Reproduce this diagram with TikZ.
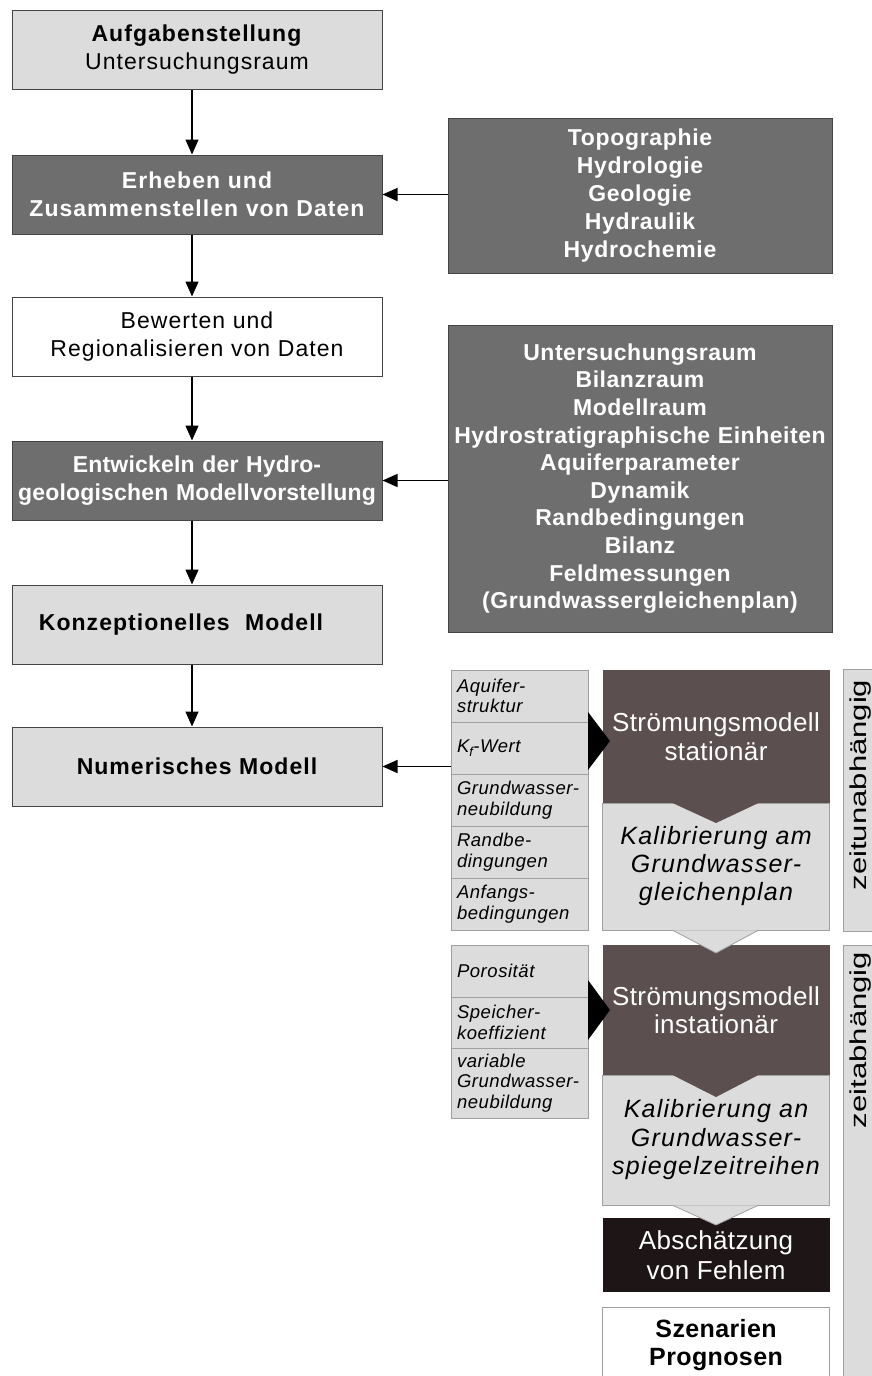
\documentclass[tikz,border=0pt]{standalone}
\usepackage{fontspec}
\usepackage{graphicx}
\setmainfont{Liberation Sans}
\usetikzlibrary{arrows.meta}
\definecolor{lightbox}{HTML}{DCDCDC}
\definecolor{darkbox}{HTML}{6E6E6E}
\definecolor{brownbox}{HTML}{5C4F4F}
\definecolor{blackbox}{HTML}{1E1616}
\definecolor{edgegray}{HTML}{A0A0A0}
\definecolor{edgedark}{HTML}{444444}
\newcommand{\lsp}[1]{\addfontfeature{LetterSpace=#1}}
\begin{document}
\begin{tikzpicture}[x=1pt,y=-1pt,
  leftbox/.style={draw=edgedark, line width=1pt, minimum width=370pt, text width=370pt, minimum height=79pt, inner sep=0pt, align=center, font=\fontsize{23}{28}\selectfont\lsp{4.5}},
  lightleft/.style={leftbox, fill=lightbox},
  darkleft/.style={leftbox, fill=darkbox, text=white, font=\fontsize{23}{28}\selectfont\bfseries\lsp{4.5}},
  boldleft/.style={lightleft, font=\fontsize{23}{28}\selectfont\bfseries\lsp{4.5}},
  rightbox/.style={draw=edgedark, line width=1pt, fill=darkbox, text=white, minimum width=384pt, text width=384pt, inner sep=0pt, align=center},
  smallbox/.style={draw=edgegray, line width=0.8pt, fill=lightbox, minimum width=137pt, inner sep=0pt, text width=125pt, align=left, font=\fontsize{18.5}{20.5}\selectfont\itshape\lsp{3}},
  flowbox/.style={minimum width=227pt, inner sep=0pt, align=center},
  sidebox/.style={draw=edgegray, line width=0.8pt, fill=lightbox, minimum width=32pt, inner sep=0pt},
  arr/.style={line width=1.3pt, -{Triangle[length=15pt,width=13pt]}},
  rottext/.style={rotate=90, inner sep=0pt, font=\fontsize{23}{28}\selectfont}
]
\useasboundingbox[fill=white] (0,0) rectangle (871,1376);

% ---- left column ----
\node[lightleft] (a1) at (197,49.5) {\textbf{Aufgabenstellung}\\Untersuchungsraum};
\node[darkleft] (a2) at (197,194.5) {Erheben und\\Zusammenstellen von Daten};
\node[lightleft, fill=white] (a3) at (197,336.5) {Bewerten und\\Regionalisieren von Daten};
\node[darkleft, font=\fontsize{23}{28}\selectfont\bfseries\lsp{0.8}] (a4) at (197,480.5) {Entwickeln der Hydro-\\geologischen Modellvorstellung};
\node[boldleft] (a5) at (197,624.5) {Konzeptionelles\ \ Modell\hspace{32pt}\mbox{}};
\node[boldleft] (a6) at (197,766.5) {Numerisches Modell};

\foreach \u/\v in {a1/a2,a2/a3,a3/a4,a4/a5,a5/a6}
  \draw[arr] ([xshift=-5pt]\u.south) -- ([xshift=-5pt]\v.north);

% ---- right info boxes ----
\node[rightbox, minimum height=155pt, font=\fontsize{23}{28}\selectfont\bfseries\lsp{3}] (r1) at (640,195.5)
  {Topographie\\Hydrologie\\Geologie\\Hydraulik\\Hydrochemie};
\node[rightbox, minimum height=307pt, font=\fontsize{23}{27.6}\selectfont\bfseries\lsp{2.3}] (r2) at (640,478.5)
  {Untersuchungsraum\\Bilanzraum\\Modellraum\\Hydrostratigraphische Einheiten\\Aquiferparameter\\Dynamik\\Randbedingungen\\Bilanz\\Feldmessungen\\(Grundwassergleichenplan)};

\draw[arr] (r1.west |- a2.east) -- (a2.east);
\draw[arr] (r2.west |- a4.east) -- (a4.east);

% ---- parameter columns ----
\node[smallbox, minimum height=52pt] (p1) at (519.5,696) {Aquifer-\\struktur};
\node[smallbox, minimum height=52pt] (p2) at (519.5,748) {K\textsubscript{f}-Wert};
\node[smallbox, minimum height=52pt] (p3) at (519.5,800) {Grundwasser-\\neubildung};
\node[smallbox, minimum height=52pt] (p4) at (519.5,852) {Randbe-\\dingungen};
\node[smallbox, minimum height=52pt] (p5) at (519.5,904) {Anfangs-\\bedingungen};

\node[smallbox, minimum height=52pt] (p6) at (519.5,971) {Porosität};
\node[smallbox, minimum height=51pt] (p7) at (519.5,1022.5) {Speicher-\\koeffizient};
\node[smallbox, minimum height=70pt] (p8) at (519.5,1083) {variable\\Grundwasser-\\neubildung};

\draw[arr] (p2.west |- a6.east) -- (a6.east);

% ---- flow column ----
\node[flowbox, draw=edgegray, line width=0.8pt, fill=lightbox, minimum height=127pt, font=\fontsize{25}{28}\selectfont\itshape\lsp{5}] (k1) at (716,866.5)
  {Kalibrierung am\\Grundwasser-\\gleichenplan};
\node[flowbox, fill=brownbox, text=white, minimum height=133pt, font=\fontsize{26}{28.5}\selectfont\lsp{1.5}] (s1) at (716,736.5)
  {Strömungsmodell\\stationär};
\fill[brownbox] ([xshift=-43pt]s1.south) -- (s1.south |- 0,823) -- ([xshift=42pt]s1.south) -- cycle;

\node[flowbox, draw=edgegray, line width=0.8pt, fill=lightbox, minimum height=130pt, font=\fontsize{25}{28.5}\selectfont\itshape\lsp{5}] (k2) at (716,1140)
  {Kalibrierung an\\Grundwasser-\\spiegelzeitreihen};
\node[flowbox, fill=brownbox, text=white, minimum height=130pt, font=\fontsize{26}{28.5}\selectfont\lsp{1.5}] (s2) at (716,1010)
  {Strömungsmodell\\instationär};
\fill[brownbox] ([xshift=-43pt]s2.south) -- (s2.south |- 0,1097) -- ([xshift=42pt]s2.south) -- cycle;

% light chevron k1 -> s2
\filldraw[fill=lightbox, draw=edgegray, line width=0.8pt] ([xshift=-43pt]k1.south) -- (k1.south |- 0,953) -- ([xshift=42pt]k1.south);

\node[flowbox, fill=blackbox, text=white, minimum height=74pt, font=\fontsize{26}{30}\selectfont\lsp{1.5}] (e1) at (716,1255)
  {Abschätzung\\von Fehlem};
\filldraw[fill=lightbox, draw=edgegray, line width=0.8pt] ([xshift=-43pt]k2.south) -- (k2.south |- 0,1225) -- ([xshift=42pt]k2.south);

\node[flowbox, draw=edgegray, line width=0.8pt, fill=white, minimum height=76pt, font=\fontsize{25}{28.5}\selectfont\bfseries\lsp{1.5}] (z1) at (716,1345)
  {Szenarien\\Prognosen};

% black input triangles
\fill[black] (588,712) -- (610,741) -- (588,770) -- cycle;
\fill[black] (588,980) -- (610,1010) -- (588,1040) -- cycle;

% ---- side bars ----
\node[sidebox, minimum height=262pt] (zb1) at (859,800) {};
\node[rottext] (zt1) at (861,785) {\scalebox{1.35}[1]{zeitunabhängig}};
\node[sidebox, minimum height=440pt] (zb2) at (859,1165) {};
\node[rottext] (zt2) at (861,1040) {\scalebox{1.35}[1]{zeitabhängig}};
\end{tikzpicture}
\end{document}
